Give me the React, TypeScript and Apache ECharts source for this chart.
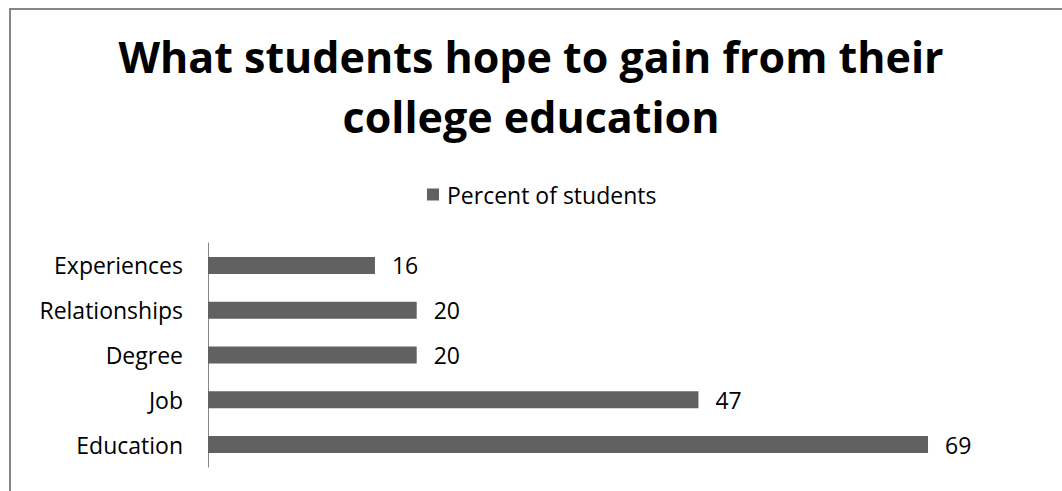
import React, { useEffect, useRef } from "react";
import * as echarts from "echarts";

const titleText = "What students hope to gain from their\ncollege education";
const seriesName = "Percent of students";
const categories = ["Education", "Job", "Degree", "Relationships", "Experiences"];
const values = [69, 47, 20, 20, 16];

export default function App() {
  const ref = useRef<HTMLDivElement>(null);
  useEffect(() => {
    if (!ref.current) return;
    const chart = echarts.init(ref.current, undefined, { renderer: "svg" });
    const font = "'Open Sans', sans-serif";
    chart.setOption({
      animation: false,
      backgroundColor: "#ffffff",
      graphic: [
        {
          type: "rect",
          shape: { x: 10, y: 9, width: 1200, height: 700 },
          style: { fill: "none", stroke: "#868686", lineWidth: 2 },
          silent: true,
        },
      ],
      title: {
        text: titleText,
        left: "center",
        top: 21,
        textStyle: {
          fontFamily: font,
          fontSize: 43,
          fontWeight: "bold",
          color: "#000000",
          lineHeight: 60,
        },
      },
      legend: {
        top: 178,
        left: 422,
        itemWidth: 12,
        itemHeight: 12,
        icon: "rect",
        textStyle: { fontFamily: font, fontSize: 23, color: "#000000", padding: [0, 0, 0, 3] },
        data: [seriesName],
      },
      grid: { left: 208, top: 243, width: 834.8, height: 224, containLabel: false },
      xAxis: {
        type: "value",
        min: 0,
        max: 80,
        show: false,
      },
      yAxis: {
        type: "category",
        data: categories,
        axisLine: { show: true, lineStyle: { color: "#868686", width: 1 } },
        axisTick: { show: false },
        axisLabel: { fontFamily: font, fontSize: 23, color: "#000000", margin: 25 },
      },
      series: [
        {
          name: seriesName,
          type: "bar",
          data: values,
          barWidth: 17,
          itemStyle: { color: "#616161" },
          label: {
            show: true,
            position: "right",
            distance: 17,
            fontFamily: font,
            fontSize: 23,
            color: "#000000",
          },
        },
      ],
    });
    return () => chart.dispose();
  }, []);
  return (
    <div
      ref={ref}
      style={{ position: "fixed", left: 0, top: 0, width: 1062, height: 491 }}
    />
  );
}
